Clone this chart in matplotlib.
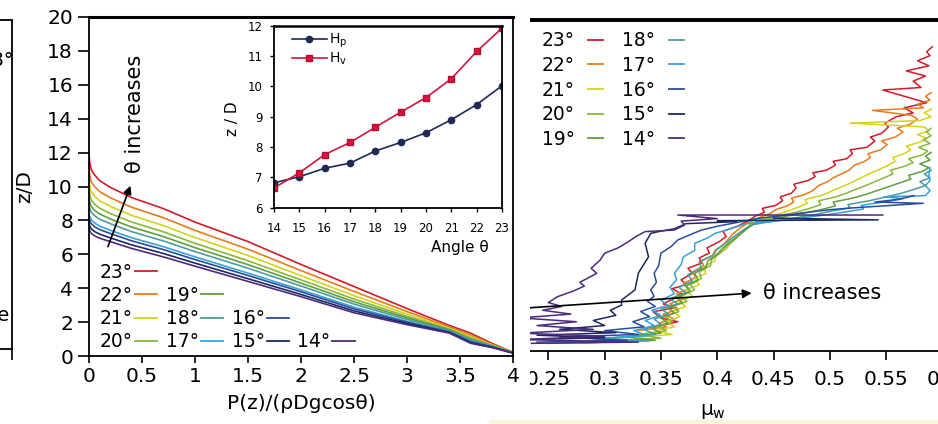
import matplotlib
matplotlib.use('Agg')
import matplotlib.pyplot as plt
from matplotlib.lines import Line2D
from matplotlib.patches import Rectangle
from matplotlib.ticker import FuncFormatter, MultipleLocator

# angles and colours shared by both panels
angles = [23, 22, 21, 20, 19, 18, 17, 16, 15, 14]
colors = ['#d01c2a', '#e97a1c', '#d4d21c', '#86b83a', '#5f9e3e',
          '#4e9c9a', '#36a2d8', '#2b4c9c', '#1e2760', '#4c2a7c']

# inset: free surface heights vs angle
inset_angles = [14, 15, 16, 17, 18, 19, 20, 21, 22, 23]
h_p = [6.82, 7.02, 7.30, 7.47, 7.87, 8.15, 8.47, 8.90, 9.40, 10.02]
h_v = [6.65, 7.15, 7.75, 8.15, 8.65, 9.15, 9.63, 10.25, 11.15, 11.92]

# pressure profiles (z/D read at these pressures)
pressure = [0, 0.005, 0.02, 0.05, 0.1, 0.2, 0.4, 0.7, 1.0, 1.5, 2.0, 2.5, 3.0, 3.4, 3.6, 3.8, 4.0]
z23 = [12.0, 11.5, 11.0, 10.7, 10.35, 9.95, 9.35, 8.7, 7.9, 6.75, 5.4, 4.1, 2.8, 1.8, 1.35, 0.75, 0.22]
z22 = [11.2, 10.72, 10.29, 10.02, 9.70, 9.34, 8.78, 8.16, 7.41, 6.30, 5.04, 3.81, 2.62, 1.71, 1.24, 0.70, 0.21]
z21 = [10.4, 10.1, 9.69, 9.44, 9.16, 8.83, 8.30, 7.70, 6.99, 5.93, 4.74, 3.56, 2.47, 1.64, 1.14, 0.66, 0.2]
z20 = [9.8, 9.6, 9.20, 8.97, 8.72, 8.41, 7.91, 7.33, 6.65, 5.62, 4.49, 3.36, 2.34, 1.58, 1.06, 0.63, 0.2]
z19 = [9.2, 9.12, 8.83, 8.61, 8.38, 8.09, 7.61, 7.05, 6.39, 5.39, 4.30, 3.20, 2.25, 1.54, 1.00, 0.61, 0.19]
z18 = [8.8, 8.75, 8.49, 8.29, 8.07, 7.81, 7.34, 6.79, 6.16, 5.18, 4.13, 3.06, 2.16, 1.50, 0.95, 0.58, 0.19]
z17 = [8.4, 8.26, 8.04, 7.86, 7.66, 7.42, 6.98, 6.45, 5.85, 4.89, 3.90, 2.88, 2.05, 1.44, 0.88, 0.55, 0.18]
z16 = [8.1, 8.02, 7.81, 7.64, 7.46, 7.23, 6.80, 6.28, 5.69, 4.75, 3.79, 2.78, 1.99, 1.42, 0.84, 0.54, 0.18]
z15 = [7.8, 7.69, 7.51, 7.35, 7.19, 6.97, 6.56, 6.05, 5.48, 4.56, 3.63, 2.66, 1.92, 1.38, 0.79, 0.52, 0.17]
z14 = [7.5, 7.4, 7.25, 7.1, 6.95, 6.75, 6.35, 5.85, 5.3, 4.4, 3.5, 2.55, 1.85, 1.35, 0.75, 0.5, 0.17]
pressure_curves = [z23, z22, z21, z20, z19, z18, z17, z16, z15, z14]

# wall friction profiles, (mu_w, z/D) pairs
wall23 = [(0.345, 0.95), (0.365, 1.15), (0.350, 1.30), (0.343, 1.54), (0.362, 1.70), (0.352, 1.85),
          (0.361, 2.05), (0.368, 2.25), (0.360, 2.45), (0.372, 2.60), (0.368, 2.80), (0.378, 3.05),
          (0.374, 3.25), (0.386, 3.45), (0.384, 3.65), (0.393, 3.85), (0.391, 4.05), (0.402, 4.30),
          (0.408, 4.50), (0.405, 4.70), (0.418, 4.90), (0.427, 5.10), (0.434, 5.30), (0.442, 5.45),
          (0.440, 5.60), (0.452, 5.72), (0.458, 5.90), (0.456, 6.05), (0.466, 6.20), (0.470, 6.40),
          (0.468, 6.55), (0.481, 6.70), (0.487, 6.85), (0.485, 7.00), (0.497, 7.10), (0.505, 7.30),
          (0.503, 7.45), (0.515, 7.55), (0.520, 7.75), (0.518, 7.90), (0.533, 8.00), (0.540, 8.25),
          (0.536, 8.40), (0.546, 8.55), (0.552, 8.80), (0.549, 8.95), (0.559, 9.20), (0.574, 9.35),
          (0.566, 9.55), (0.586, 9.75), (0.547, 10.25), (0.581, 10.35), (0.574, 10.60), (0.585, 10.80),
          (0.568, 11.00), (0.588, 11.20), (0.578, 11.40), (0.589, 11.60), (0.586, 11.75), (0.591, 11.95)]
wall22 = [(0.330, 0.80), (0.355, 0.95), (0.348, 1.10), (0.362, 1.25), (0.352, 1.45), (0.366, 1.65),
          (0.358, 1.85), (0.370, 2.05), (0.364, 2.25), (0.375, 2.45), (0.370, 2.65), (0.381, 2.90),
          (0.378, 3.10), (0.388, 3.35), (0.386, 3.55), (0.396, 3.75), (0.398, 3.95), (0.406, 4.20),
          (0.410, 4.40), (0.414, 4.60), (0.421, 4.85), (0.428, 5.05), (0.438, 5.25), (0.447, 5.40),
          (0.452, 5.55), (0.462, 5.70), (0.468, 5.85), (0.466, 6.00), (0.478, 6.15), (0.485, 6.30),
          (0.490, 6.50), (0.498, 6.65), (0.503, 6.80), (0.510, 6.95), (0.517, 7.10), (0.522, 7.30),
          (0.531, 7.45), (0.536, 7.60), (0.534, 7.75), (0.545, 7.90), (0.551, 8.10), (0.546, 8.25),
          (0.558, 8.40), (0.565, 8.60), (0.560, 8.75), (0.571, 8.90), (0.578, 9.10), (0.573, 9.25),
          (0.538, 9.45), (0.583, 9.55), (0.578, 9.70), (0.589, 9.85), (0.585, 10.00), (0.590, 10.15)]
wall21 = [(0.330, 0.55), (0.360, 0.65), (0.345, 0.80), (0.362, 0.95), (0.355, 1.15), (0.367, 1.35),
          (0.360, 1.55), (0.372, 1.75), (0.366, 1.95), (0.378, 2.15), (0.372, 2.40), (0.384, 2.60),
          (0.380, 2.85), (0.390, 3.05), (0.388, 3.30), (0.398, 3.55), (0.399, 3.80), (0.408, 4.00),
          (0.412, 4.25), (0.418, 4.50), (0.424, 4.75), (0.430, 5.00), (0.440, 5.20), (0.452, 5.35),
          (0.463, 5.50), (0.472, 5.65), (0.480, 5.80), (0.478, 5.95), (0.492, 6.10), (0.500, 6.25),
          (0.508, 6.40), (0.516, 6.55), (0.523, 6.70), (0.530, 6.85), (0.537, 7.00), (0.545, 7.15),
          (0.552, 7.30), (0.558, 7.45), (0.556, 7.60), (0.566, 7.75), (0.572, 7.90), (0.568, 8.05),
          (0.580, 8.20), (0.586, 8.35), (0.578, 8.50), (0.588, 8.65), (0.584, 8.80), (0.518, 8.95),
          (0.580, 9.05), (0.590, 9.20), (0.584, 9.35), (0.590, 9.50)]
wall20 = [(0.300, 0.40), (0.350, 0.50), (0.330, 0.65), (0.355, 0.80), (0.348, 0.95), (0.360, 1.15),
          (0.354, 1.35), (0.366, 1.55), (0.360, 1.75), (0.373, 1.95), (0.368, 2.15), (0.380, 2.40),
          (0.376, 2.60), (0.386, 2.85), (0.384, 3.10), (0.394, 3.35), (0.395, 3.60), (0.403, 3.85),
          (0.408, 4.10), (0.415, 4.35), (0.421, 4.60), (0.428, 4.85), (0.434, 5.05), (0.446, 5.20),
          (0.458, 5.35), (0.470, 5.45), (0.482, 5.60), (0.492, 5.75), (0.490, 5.90), (0.505, 6.05),
          (0.515, 6.20), (0.523, 6.35), (0.532, 6.50), (0.540, 6.65), (0.548, 6.80), (0.556, 6.95),
          (0.554, 7.10), (0.566, 7.25), (0.574, 7.40), (0.570, 7.55), (0.582, 7.70), (0.587, 7.85),
          (0.579, 8.00), (0.589, 8.15), (0.583, 8.30), (0.590, 8.45), (0.586, 8.60), (0.590, 8.75)]
wall19 = [(0.290, 0.35), (0.345, 0.42), (0.320, 0.55), (0.350, 0.70), (0.342, 0.90), (0.356, 1.10),
          (0.350, 1.30), (0.362, 1.50), (0.356, 1.70), (0.369, 1.90), (0.364, 2.10), (0.376, 2.35),
          (0.372, 2.55), (0.383, 2.80), (0.380, 3.05), (0.390, 3.30), (0.392, 3.55), (0.400, 3.80),
          (0.405, 4.05), (0.412, 4.30), (0.419, 4.55), (0.426, 4.80), (0.433, 5.00), (0.448, 5.15),
          (0.462, 5.30), (0.478, 5.42), (0.492, 5.55), (0.505, 5.70), (0.503, 5.85), (0.520, 6.00),
          (0.532, 6.15), (0.542, 6.30), (0.552, 6.45), (0.562, 6.60), (0.572, 6.75), (0.570, 6.90),
          (0.582, 7.05), (0.588, 7.20), (0.580, 7.35), (0.589, 7.50), (0.585, 7.65), (0.590, 7.80)]
wall18 = [(0.280, 0.32), (0.340, 0.40), (0.300, 0.50), (0.345, 0.65), (0.335, 0.85), (0.350, 1.05),
          (0.344, 1.25), (0.357, 1.45), (0.350, 1.65), (0.365, 1.85), (0.358, 2.05), (0.372, 2.30),
          (0.366, 2.50), (0.378, 2.75), (0.374, 3.00), (0.386, 3.25), (0.384, 3.50), (0.396, 3.75),
          (0.400, 4.00), (0.408, 4.25), (0.415, 4.50), (0.423, 4.75), (0.430, 4.95), (0.450, 5.10),
          (0.468, 5.22), (0.486, 5.35), (0.502, 5.50), (0.518, 5.62), (0.516, 5.75), (0.535, 5.90),
          (0.550, 6.05), (0.564, 6.20), (0.575, 6.35), (0.585, 6.50), (0.580, 6.65), (0.589, 6.80),
          (0.584, 6.95), (0.590, 7.10)]
wall17 = [(0.250, 0.30), (0.330, 0.38), (0.290, 0.48), (0.338, 0.60), (0.326, 0.80), (0.344, 1.00),
          (0.336, 1.20), (0.350, 1.40), (0.342, 1.60), (0.356, 1.80), (0.350, 2.00), (0.362, 2.25),
          (0.358, 2.50), (0.364, 2.80), (0.362, 3.05), (0.368, 3.40), (0.370, 3.70), (0.380, 3.95),
          (0.380, 4.23), (0.392, 4.45), (0.398, 4.62), (0.412, 4.80), (0.425, 5.00), (0.448, 5.08),
          (0.470, 5.20), (0.492, 5.32), (0.512, 5.45), (0.530, 5.58), (0.528, 5.72), (0.548, 5.85),
          (0.565, 5.98), (0.548, 6.06), (0.585, 6.10), (0.589, 6.30), (0.585, 6.50), (0.589, 6.70),
          (0.588, 6.90), (0.589, 7.20)]
wall16 = [(0.240, 0.35), (0.320, 0.42), (0.260, 0.55), (0.330, 0.65), (0.300, 0.80), (0.335, 0.95),
          (0.325, 1.15), (0.340, 1.35), (0.332, 1.55), (0.345, 1.75), (0.338, 1.95), (0.344, 2.15),
          (0.341, 2.40), (0.346, 2.70), (0.344, 3.05), (0.348, 3.35), (0.350, 3.84), (0.359, 4.10),
          (0.365, 4.36), (0.375, 4.55), (0.386, 4.75), (0.400, 4.90), (0.418, 5.05), (0.435, 5.20),
          (0.455, 5.30), (0.475, 5.42), (0.500, 5.55), (0.520, 5.62), (0.583, 5.80), (0.540, 5.85),
          (0.560, 5.95), (0.575, 6.10)]
wall15 = [(0.230, 0.45), (0.300, 0.52), (0.240, 0.62), (0.310, 0.72), (0.260, 0.85), (0.300, 1.00),
          (0.290, 1.20), (0.310, 1.40), (0.305, 1.60), (0.315, 1.80), (0.315, 2.00), (0.327, 2.40),
          (0.330, 3.06), (0.339, 3.70), (0.336, 4.23), (0.341, 4.62), (0.348, 4.69), (0.362, 4.80),
          (0.372, 5.00), (0.417, 5.08), (0.400, 5.12), (0.543, 5.15), (0.450, 5.22)]
wall14 = [(0.235, 0.30), (0.330, 0.35), (0.225, 0.45), (0.300, 0.58), (0.225, 0.70), (0.290, 0.85),
          (0.240, 1.00), (0.275, 1.15), (0.225, 1.30), (0.270, 1.45), (0.245, 1.60), (0.262, 1.75),
          (0.250, 1.90), (0.258, 2.13), (0.272, 2.35), (0.282, 2.55), (0.278, 2.70), (0.285, 2.86),
          (0.293, 3.05), (0.288, 3.25), (0.296, 3.57), (0.300, 3.84), (0.312, 4.05), (0.321, 4.29),
          (0.328, 4.50), (0.336, 4.69), (0.362, 4.75), (0.371, 4.95), (0.368, 5.10), (0.400, 5.20),
          (0.365, 5.34), (0.547, 5.34)]
wall_curves = [wall23, wall22, wall21, wall20, wall19, wall18, wall17, wall16, wall15, wall14]

W, H = 938, 424
fig = plt.figure(figsize=(W / 100, H / 100), dpi=100)
fmt = FuncFormatter(lambda v, pos: f'{v:g}')


def px_axes(left, top, right, bottom, **kw):
    return fig.add_axes([left / W, (H - bottom) / H, (right - left) / W, (bottom - top) / H], **kw)


# partial panel on the far left (cut off)
axl = px_axes(-290, 20, 12, 349)
axl.set_zorder(0)
axl.set_xlim(0, 1)
axl.set_ylim(0, 1)
axl.set_yticks([])
axl.set_xticks([1])
axl.set_xticklabels([])
axl.tick_params(axis='x', direction='out', length=8, width=1.2)
for s in axl.spines.values():
    s.set_linewidth(1.3)
axl.text(1.007, 0.878, '18°', ha='right', va='center', fontsize=14)
axl.text(0.99, 0.103, 'increase', ha='right', va='center', fontsize=14)

# right panel: wall friction (left part hidden behind the middle panel)
axr = px_axes(492, 20, 942.4, 351)
axr.set_zorder(0)
for (ang, col, pts) in zip(angles, colors, wall_curves):
    axr.plot([p[0] for p in pts], [p[1] for p in pts], color=col, lw=1.1)
axr.set_xlim(0.2, 0.6)
axr.set_ylim(0, 13)
axr.set_yticks([])
axr.xaxis.set_major_locator(MultipleLocator(0.05))
axr.xaxis.set_major_formatter(fmt)
axr.tick_params(axis='x', direction='out', length=6.5, width=1.2, pad=7.5, labelsize=14.5)
axr.spines['top'].set_linewidth(2.8)
axr.spines['bottom'].set_linewidth(1.3)
axr.set_xlabel('μ$_\\mathrm{w}$', fontsize=14.5)
axr.xaxis.set_label_coords(0.49, -0.155)
axr.annotate('', xy=(0.433, 2.28), xytext=(0.20, 1.6),
             arrowprops=dict(arrowstyle='-|>', color='black', lw=1.2, mutation_scale=13))
axr.text(0.441, 2.28, 'θ increases', ha='left', va='center', fontsize=15)
handles_r = [Line2D([], [], color=c, lw=1.3) for c in colors]
axr.legend(handles_r, [f'{a}°' for a in angles], ncol=2, markerfirst=False, frameon=False,
           loc='upper left', bbox_to_anchor=(0.110, 0.966), borderaxespad=0, borderpad=0,
           fontsize=13.5, handlelength=0.8, handletextpad=0.7, columnspacing=1.05,
           labelspacing=0.30)

# white strip between the two cropped panels
fig.add_artist(Rectangle((470 / W, 0), 60 / W, 1, transform=fig.transFigure,
                         facecolor='white', edgecolor='none', zorder=1))
fig.add_artist(Rectangle((489 / W, 0), (W - 489) / W, 4 / H, transform=fig.transFigure,
                         facecolor='#fdf4da', edgecolor='none', zorder=1.5))

# main panel: pressure profiles
ax = px_axes(89, 17, 513, 356)
ax.set_zorder(2)
for ang, col, zs in zip(angles, colors, pressure_curves):
    ax.plot(pressure, zs, color=col, lw=1.2)
ax.set_xlim(0, 4)
ax.set_ylim(0, 20)
ax.xaxis.set_major_locator(MultipleLocator(0.5))
ax.yaxis.set_major_locator(MultipleLocator(2))
ax.xaxis.set_major_formatter(fmt)
ax.yaxis.set_major_formatter(fmt)
ax.tick_params(axis='x', direction='out', length=5, width=1.2, pad=3, labelsize=14.5)
ax.tick_params(axis='y', direction='out', length=8, width=1.2, pad=3.5, labelsize=14.5)
for s in ax.spines.values():
    s.set_linewidth(1.3)
ax.spines['top'].set_linewidth(2.2)
ax.set_xlabel('P(z)/(ρDgcosθ)', fontsize=14.5)
ax.xaxis.set_label_coords(0.5, -0.112)
ax.set_ylabel('z/D', fontsize=14.5)
ax.yaxis.set_label_coords(-0.130, 0.5)
ax.annotate('', xy=(0.40, 10.2), xytext=(0.17, 6.3),
            arrowprops=dict(arrowstyle='-|>', color='black', lw=1.2, mutation_scale=12))
ax.text(0.434, 14.3, 'θ increases', rotation=90, ha='center', va='center', fontsize=15)

blank = Line2D([], [], color='none')
order = [23, 22, 21, 20, None, 19, 18, 17, None, None, 16, 15, None, None, None, 14]
handles_m, labels_m = [], []
for a in order:
    if a is None:
        handles_m.append(blank)
        labels_m.append(' ')
    else:
        handles_m.append(Line2D([], [], color=colors[angles.index(a)], lw=1.3))
        labels_m.append(f'{a}°')
ax.legend(handles_m, labels_m, ncol=4, markerfirst=False, frameon=False,
          loc='lower left', bbox_to_anchor=(0.026, 0.014), borderaxespad=0, borderpad=0,
          fontsize=13.5, handlelength=1.2, handletextpad=0.1, columnspacing=0.45,
          labelspacing=0.22)

# inset: free surface heights
axin = px_axes(274, 25.7, 502, 207.7)
axin.set_zorder(3)
axin.plot(inset_angles, h_p, color='#1e2a55', lw=1.2, marker='o', ms=4.5,
          markerfacecolor='#1e2a55', label='H$_\\mathrm{p}$')
axin.plot(inset_angles, h_v, color='#d2143c', lw=1.2, marker='s', ms=4.8,
          markerfacecolor='#e0103a', markeredgecolor='#b01030', label='H$_\\mathrm{v}$')
axin.set_xlim(14, 23)
axin.set_ylim(6, 12)
axin.xaxis.set_major_locator(MultipleLocator(1))
axin.yaxis.set_major_locator(MultipleLocator(1))
axin.tick_params(direction='out', length=3, width=1.0, labelsize=8.5)
axin.tick_params(axis='x', pad=7)
axin.tick_params(axis='y', pad=5)
for s in axin.spines.values():
    s.set_linewidth(1.3)
axin.spines['top'].set_linewidth(1.8)
axin.set_xlabel('Angle θ', fontsize=11)
axin.xaxis.set_label_coords(0.816, -0.175)
axin.set_ylabel('z / D', fontsize=11)
axin.yaxis.set_label_coords(-0.149, 0.49)
axin.legend(loc='upper left', bbox_to_anchor=(0.079, 0.965), frameon=False, borderaxespad=0,
            borderpad=0, fontsize=10, handlelength=2.5, handletextpad=0.15, labelspacing=0.0,
            numpoints=1)

fig.savefig('out.png', dpi=100)
